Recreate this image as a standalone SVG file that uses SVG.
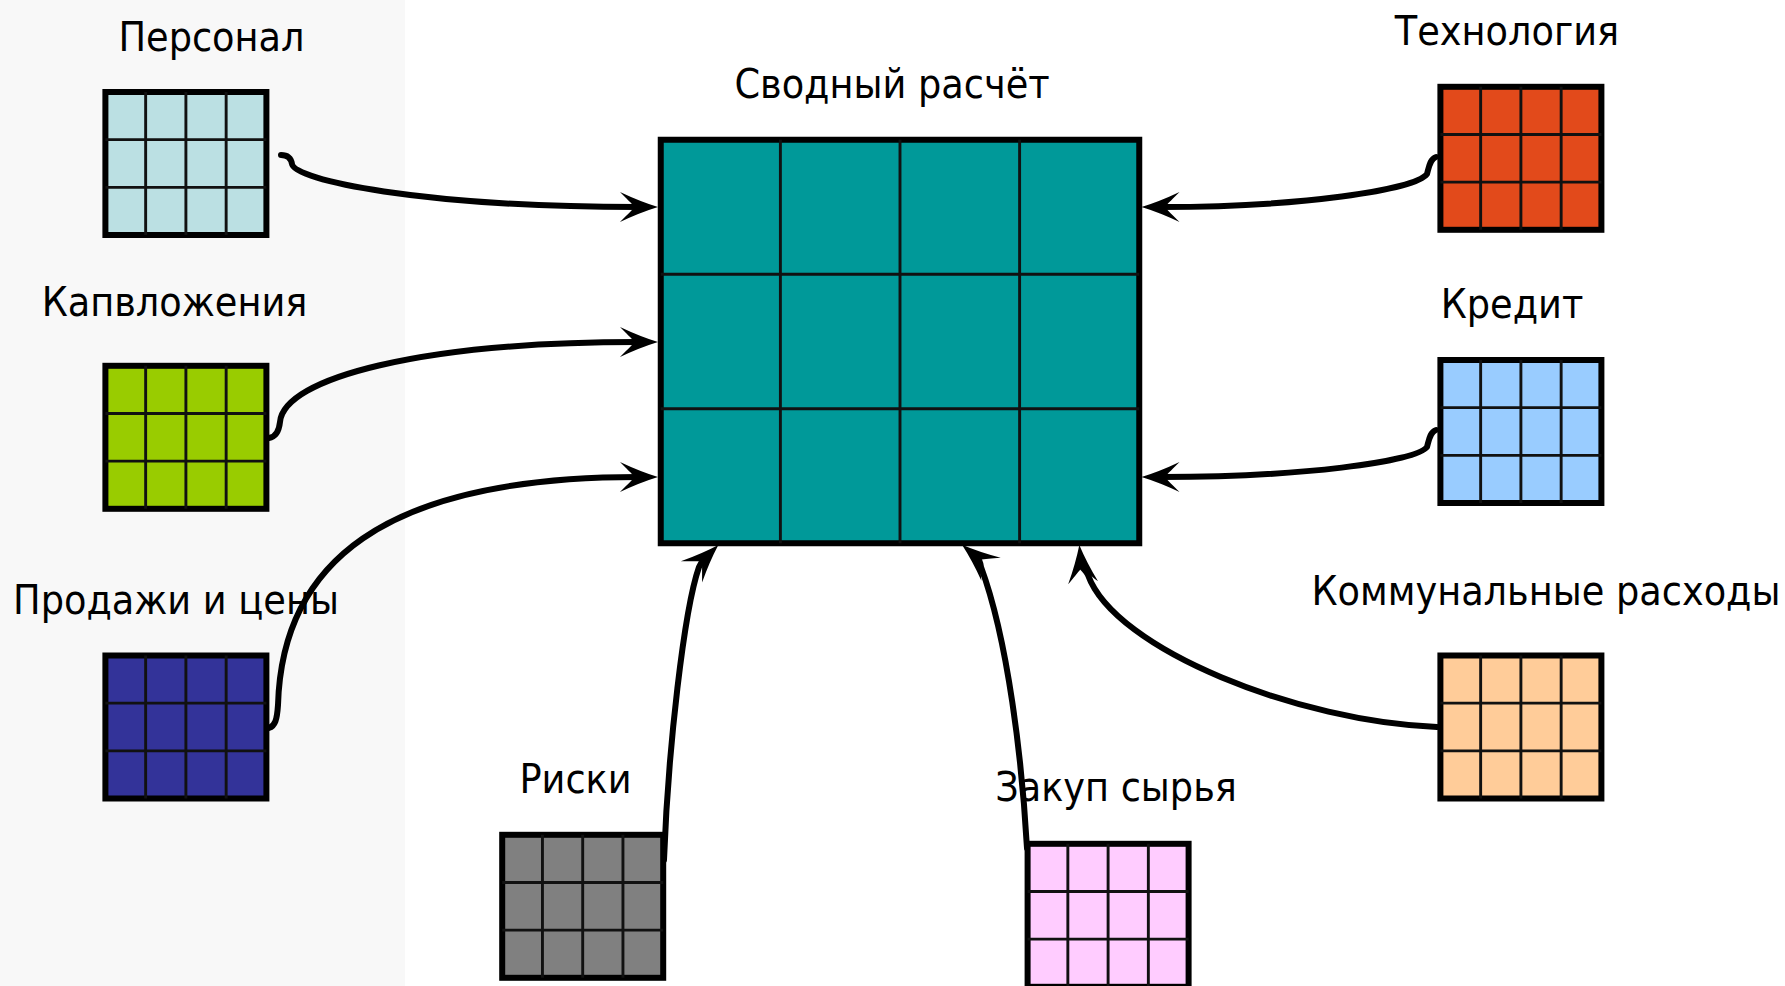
<svg xmlns="http://www.w3.org/2000/svg" xmlns:xlink="http://www.w3.org/1999/xlink" width="1785" height="986" viewBox="0 0 1785 986">
<style>
.lbl{font-family:"DejaVu Sans Condensed","DejaVu Sans","Liberation Sans",sans-serif;font-stretch:condensed;font-size:40.8px;fill:#000;text-anchor:middle}
.box{stroke:#000;stroke-width:6}
.grid{fill:none;stroke:#111;stroke-width:2.9}
.conn{fill:none;stroke:#000;stroke-width:6;stroke-linecap:round;stroke-linejoin:round;marker-end:url(#ah)}
</style>
<defs>
<marker id="ah" markerUnits="userSpaceOnUse" viewBox="-40 -17 44 34" markerWidth="44" markerHeight="34" refX="-20" refY="0" orient="auto" overflow="visible">
<path d="M0,0 Q-18,-5.5 -38,-15 C-31,-8 -27,-4 -23,0 C-27,4 -31,8 -38,15 Q-18,5.5 0,0 Z" fill="#000"/>
</marker>
<path id="sgrid" class="grid" d="M40.25,0V143M80.5,0V143M120.75,0V143M0,47.67H161M0,95.33H161"/>
</defs>
<rect width="1785" height="986" fill="#fff"/>
<rect width="405" height="986" fill="#f8f8f8"/>

<g id="svodny">
<rect class="box" x="660.75" y="139.75" width="478.5" height="403.5" fill="#009999"/>
<path class="grid" d="M780.4,139.75V543.25M900,139.75V543.25M1019.6,139.75V543.25M660.75,274.25H1139.25M660.75,408.75H1139.25"/>
<text class="lbl" x="892" y="98">Сводный расчёт</text>
</g>

<g id="personal">
<g transform="translate(105.4,92)"><rect class="box" width="161" height="143" fill="#bbe0e3"/><use xlink:href="#sgrid"/></g>
<text class="lbl" x="211.5" y="51">Персонал</text>
</g>

<g id="kapvlozheniya">
<g transform="translate(105.4,365.8)"><rect class="box" width="161" height="143" fill="#99cc00"/><use xlink:href="#sgrid"/></g>
<text class="lbl" x="174.5" y="316">Капвложения</text>
</g>

<g id="prodazhi">
<g transform="translate(105.4,655.5)"><rect class="box" width="161" height="143" fill="#333399"/><use xlink:href="#sgrid"/></g>
<text class="lbl" x="176" y="614">Продажи и цены</text>
</g>

<g id="tehnologiya">
<g transform="translate(1440.4,86.8)"><rect class="box" width="161" height="143" fill="#e24a1b"/><use xlink:href="#sgrid"/></g>
<text class="lbl" x="1507" y="45">Технология</text>
</g>

<g id="kredit">
<g transform="translate(1440.4,360)"><rect class="box" width="161" height="143" fill="#99ccff"/><use xlink:href="#sgrid"/></g>
<text class="lbl" x="1512" y="318">Кредит</text>
</g>

<g id="kommunalnye">
<g transform="translate(1440.4,655.5)"><rect class="box" width="161" height="143" fill="#ffcc99"/><use xlink:href="#sgrid"/></g>
<text class="lbl" x="1546" y="605">Коммунальные расходы</text>
</g>

<g id="riski">
<g transform="translate(502.2,834.8)"><rect class="box" width="161" height="143" fill="#808080"/><use xlink:href="#sgrid"/></g>
<text class="lbl" x="575.5" y="793">Риски</text>
</g>

<g id="zakup">
<g transform="translate(1027.6,843.8)"><rect class="box" width="161" height="143" fill="#ffccff"/><use xlink:href="#sgrid"/></g>
<text class="lbl" x="1116" y="801">Закуп сырья</text>
</g>

<g id="connectors">
<path class="conn" d="M281,155 C287,155 291,158 292,164 C294,180 420,207 638,207"/>
<path class="conn" d="M269,438 C276,437 279,431 280,422 C284,378 420,342 638,342"/>
<path class="conn" d="M269,728 C275,726 277,720 278,705 C282,565 380,477 638,477"/>
<path class="conn" d="M1436,157 C1430,159 1429,167 1427,174 C1415,190 1300,207 1161.5,207"/>
<path class="conn" d="M1436,430 C1430,432 1429,440 1427,447 C1415,462 1300,477 1161.5,477"/>
<path class="conn" d="M664,860 C668,750 684,610 699,567 C701,563 702.5,560.8 704.2,559.1"/>
<path class="conn" d="M1027,848 C1022,760 1008,640 981,567 C980.5,564 979.2,559.2 977.3,557.6"/>
<path class="conn" d="M1437,727 C1300,722 1115,650 1088,575 C1086.7,571.2 1081.6,567.9 1081.3,564.9"/>
</g>
</svg>
